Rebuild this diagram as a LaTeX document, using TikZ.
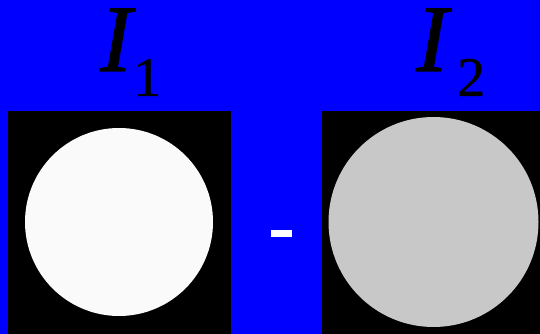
\documentclass[tikz,border=0pt]{standalone}
\usepackage{fontspec}
\setmainfont{Liberation Serif}
\newfontfamily\heavyserif[FakeBold=1.2]{Liberation Serif}
\newfontfamily\midserif[FakeBold=0.6]{Liberation Serif}
\definecolor{bgblue}{RGB}{0,0,255}
\definecolor{lightdisk}{RGB}{250,250,250}
\definecolor{graydisk}{RGB}{200,200,200}
\begin{document}
\begin{tikzpicture}[x=1pt,y=1pt,
  bigI/.style={inner sep=0pt,anchor=base west,font=\fontsize{95}{95}\heavyserif\itshape},
  subscr/.style={inner sep=0pt,anchor=base west,font=\fontsize{56}{56}\midserif},
  panel/.style={fill=black,draw=none},
]
\fill[bgblue] (0,0) rectangle (540,334);
\useasboundingbox (0,0) rectangle (540,334);
% panels
\fill[panel] (8,0) rectangle (231,223);
\fill[panel] (322,0) rectangle (540,223);
% disks
\fill[lightdisk] (119,112) circle (94);
\fill[graydisk] (433.5,112) circle (105);
% minus sign
\fill[white] (271,97) rectangle (292,104);
% labels
\node[bigI] (i1) at (100,263) {I};
\node[subscr] (s1) at (133,238) {1};
\node[bigI] (i2) at (416,263) {I};
\node[subscr] (s2) at (457,238) {2};
\end{tikzpicture}
\end{document}
